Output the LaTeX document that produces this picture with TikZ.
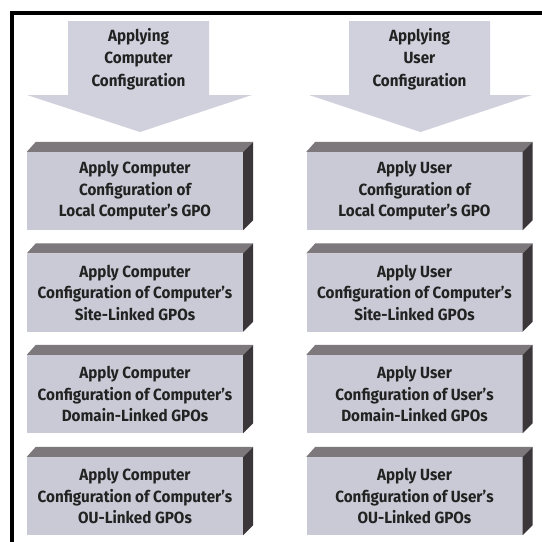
\documentclass[tikz,border=0pt]{standalone}
\usepackage{fontspec}
\setmainfont{Fira Sans}[UprightFont=* Bold, FakeStretch=0.94]
\begin{document}
\begin{tikzpicture}[x=1pt,y=-1pt]
\definecolor{faceC}{HTML}{CACAD6}
\definecolor{topC}{HTML}{7C787C}
\definecolor{sideC}{HTML}{3A363A}
\definecolor{arrowC}{HTML}{D0D1DD}
\definecolor{inkC}{HTML}{222222}
\tikzset{
  stepface/.style={fill=faceC, minimum width=216pt, minimum height=78pt,
    inner sep=0pt, align=center, font=\fontsize{16.2}{21.5}\selectfont, text=inkC},
  flowlabel/.style={align=center, font=\fontsize{16.2}{22.5}\selectfont, text=inkC},
  topface/.style={fill=topC},
  sideface/.style={fill=sideC},
  bigarrow/.style={fill=arrowC}
}
\useasboundingbox (0,0) rectangle (542,542);
% frame lines on the left and top
\draw[line width=4.5pt, line join=miter] (11.75,542) -- (11.75,13) -- (542,13);

% wide downward arrows heading each column
\fill[bigarrow] (68,21) -- (209,21) -- (209,95) -- (252,95) -- (140,132) -- (27,95) -- (68,95) -- cycle;
\fill[bigarrow] (349,21) -- (490,21) -- (490,95) -- (532,95) -- (420.5,132) -- (309,95) -- (349,95) -- cycle;
\node[flowlabel] (hc) at (138.5,59) {Applying\\Computer\\Configuration};
\node[flowlabel] (hu) at (419.5,59) {Applying\\User\\Configuration};

% raised blocks: front face is the node, top and side faces are added around it
\newcommand{\slab}[3]{%
  \node[stepface] (#1) at (#2) {#3};
  \fill[topface] (#1.north west) -- ++(9,-10) -- ([shift={(10,-10)}]#1.north east) -- (#1.north east) -- cycle;
  \fill[sideface] (#1.north east) -- ++(10,-10) -- ([shift={(10,-10)}]#1.south east) -- (#1.south east) -- cycle;
}
\slab{c1}{135,191}{Apply Computer\\Configuration of\\Local Computer's GPO}
\slab{c2}{135,292.5}{Apply Computer\\Configuration of Computer's\\Site-Linked GPOs}
\slab{c3}{135,394}{Apply Computer\\Configuration of Computer's\\Domain-Linked GPOs}
\slab{c4}{135,496}{Apply Computer\\Configuration of Computer's\\OU-Linked GPOs}
\slab{u1}{414.5,191}{Apply User\\Configuration of\\Local Computer's GPO}
\slab{u2}{414.5,292.5}{Apply User\\Configuration of Computer's\\Site-Linked GPOs}
\slab{u3}{414.5,394}{Apply User\\Configuration of User's\\Domain-Linked GPOs}
\slab{u4}{414.5,496}{Apply User\\Configuration of User's\\OU-Linked GPOs}
\end{tikzpicture}
\end{document}
